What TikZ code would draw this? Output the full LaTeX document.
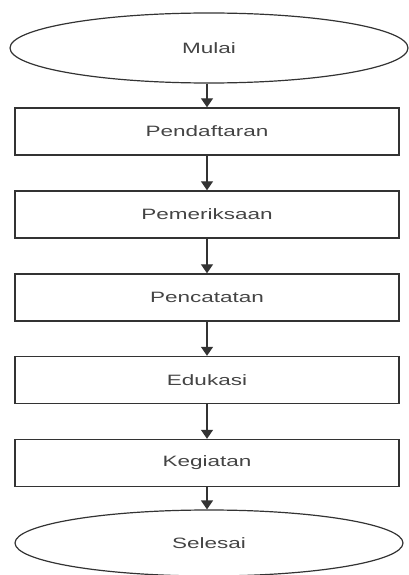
\documentclass[tikz,border=0pt]{standalone}
\usepackage{fontspec}
\newfontfamily\flowfont[FakeStretch=1.5]{Liberation Sans}
\usepackage{tikz}
\usetikzlibrary{arrows.meta,shapes.geometric}
\definecolor{linegray}{HTML}{333333}
\definecolor{textgray}{HTML}{444444}
\tikzstyle{terminal}=[ellipse, draw=linegray, line width=1.2pt, minimum width=398pt, minimum height=70pt, inner sep=0pt, text=textgray, font=\flowfont\fontsize{15}{18}\selectfont]
\tikzstyle{process}=[rectangle, draw=linegray, line width=1.4pt, minimum width=384pt, minimum height=47pt, inner sep=0pt, text=textgray, font=\flowfont\fontsize{15}{18}\selectfont]
\tikzstyle{arrow}=[draw=linegray, line width=1.3pt, -{Triangle[width=12pt,length=9pt]}]

\begin{document}
\begin{tikzpicture}[x=1pt, y=-1pt]
	\useasboundingbox (0,0) rectangle (409,575);
	\begin{scope}
		\node (mulai) at (209, 48)[terminal] {Mulai};
		\node (daftar) at (207, 131.5)[process] {Pendaftaran};
		\node (periksa) at (207, 214.5)[process] {Pemeriksaan};
		\node (catat) at (207, 297.5)[process] {Pencatatan};
		\node (edukasi) at (207, 380)[process] {Edukasi};
		\node (kegiatan) at (207, 463)[process] {Kegiatan};
		\node (selesai) at (209, 543)[terminal, minimum width=388pt, minimum height=66pt] {Selesai};
	\end{scope}
	\begin{scope}
		\path [arrow] (mulai.south -| daftar.north) -- (daftar);
		\path [arrow] (daftar) -- (periksa);
		\path [arrow] (periksa) -- (catat);
		\path [arrow] (catat) -- (edukasi);
		\path [arrow] (edukasi) -- (kegiatan);
		\path [arrow] (kegiatan) -- (kegiatan.south |- selesai.north);
	\end{scope}
\end{tikzpicture}
\end{document}
